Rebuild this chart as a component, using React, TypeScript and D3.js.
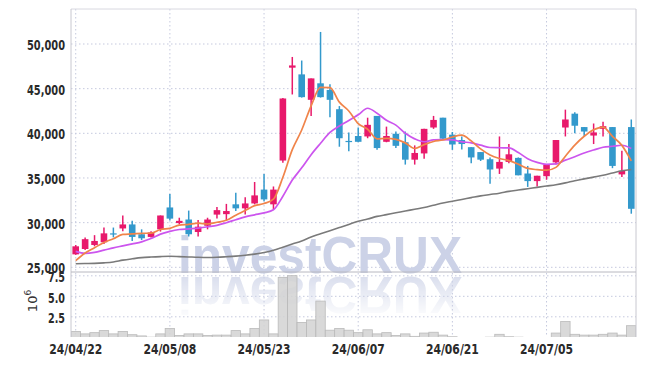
import React from "react";
import * as d3 from "d3";

const dates = [
  "24/04/22","24/04/23","24/04/24","24/04/25","24/04/26","24/04/29","24/04/30","24/05/02","24/05/03","24/05/07",
  "24/05/08","24/05/09","24/05/10","24/05/13","24/05/14","24/05/16","24/05/17","24/05/20","24/05/21","24/05/22",
  "24/05/23","24/05/24","24/05/27","24/05/28","24/05/29","24/05/30","24/05/31","24/06/03","24/06/04","24/06/05",
  "24/06/07","24/06/10","24/06/11","24/06/12","24/06/13","24/06/14","24/06/17","24/06/18","24/06/19","24/06/20",
  "24/06/21","24/06/24","24/06/25","24/06/26","24/06/27","24/06/28","24/07/01","24/07/02","24/07/03","24/07/04",
  "24/07/05","24/07/08","24/07/09","24/07/10","24/07/11","24/07/12","24/07/15","24/07/16","24/07/17","24/07/18",
];

const opens = [
  26450,27050,27500,27800,28800,29350,29800,28700,28400,29250,
  31700,29950,30350,28950,29650,30900,30950,32050,31600,32150,
  33700,32050,36950,47350,46600,43750,45600,44850,42700,39150,
  39700,39650,41950,39050,39950,39000,37050,37750,40650,41750,
  39850,39250,38450,37900,37100,36050,36800,37250,35500,34650,
  35200,36750,40650,42200,40700,39750,40500,40700,35400,40700,
];
const highs = [
  27500,28350,28600,29450,29450,30800,30200,29250,29050,30800,
  33200,30550,31350,30300,30550,31750,32100,33350,32850,34550,
  35450,34050,43950,48550,48150,46150,51350,45500,43050,40100,
  40650,41750,41950,40750,40200,40200,38650,40500,41950,41750,
  40150,39650,38450,37900,37300,39650,38800,37300,36350,35250,
  36500,39250,42650,42350,40700,41100,41300,40700,38050,41550,
];
const lows = [
  26400,26950,27350,27600,28350,29050,27950,28050,28350,29000,
  30250,29800,28450,28450,29250,30450,30250,31300,30900,32050,
  32400,31500,36700,44350,44000,41950,44000,41800,38500,38000,
  39000,39450,38150,39000,38350,36500,36500,37150,40500,39350,
  38150,38200,36650,36900,34350,35450,36650,35300,34000,34050,
  34800,36500,39650,40000,39700,38800,39650,36100,35100,31000,
];
const closes = [
  27350,28150,27950,28800,28750,29800,28400,28250,28900,30800,
  30450,30200,28700,29550,30350,31400,31300,31600,32150,33050,
  32600,33700,43900,47600,44050,46150,44050,43750,39450,39100,
  39050,40950,38350,39700,38600,37050,37800,40500,41500,39400,
  38750,38800,37300,37050,35950,36800,37650,35300,34650,35250,
  36500,39250,41550,40850,40200,40100,40800,36350,35800,31550,
];
// volume, millions of shares
const volumes = [
  0.9,0.6,0.75,1.0,0.6,0.9,0.5,0.35,0.2,0.6,
  1.25,0.4,0.6,0.6,0.4,0.45,0.45,1.0,0.6,1.25,
  2.3,0.6,7.5,7.7,2.0,2.3,4.6,1.05,1.25,1.05,
  0.75,1.1,0.6,0.75,0.4,0.6,0.3,0.7,0.8,0.45,
  0.25,0.1,0.1,0.1,0.2,0.55,0.25,0.2,0.15,0.15,
  0.15,0.7,2.1,0.55,0.45,0.45,0.55,0.7,0.45,1.6,
];
// moving averages
const ma5 = [
  25750,26600,27200,27780,28200,28690,28740,28800,28820,29230,
  29360,29720,29810,29940,29850,30040,30260,30840,31360,31900,
  32140,32620,35080,38170,40370,43080,45150,45120,43490,42500,
  41080,40460,39380,39430,39330,38930,38300,38730,39090,39250,
  39590,39790,39150,38260,37570,37180,36950,36550,36070,35930,
  35870,36190,37440,38680,39670,40390,40700,39660,38650,36920,
];
const ma10 = [
  26780,26560,26670,26920,27180,27400,27620,27850,28220,28715,
  29025,29230,29305,29380,29540,29700,29990,30325,30650,30875,
  31090,31440,32960,34765,36135,37610,38885,40100,40830,41435,
  42080,42805,42250,41460,40915,40005,39380,39055,39260,39290,
  39260,39045,38940,38675,38410,38385,38370,37850,37165,36750,
  36525,36570,36995,37375,37800,38130,38445,38550,38665,38295,
];
const maLong = [
  25400,25420,25440,25500,25600,25800,25950,26080,26150,26200,
  26230,26200,26160,26120,26100,26120,26180,26250,26350,26480,
  26650,26900,27250,27600,27950,28400,28750,29100,29450,29800,
  30150,30400,30700,30900,31100,31300,31500,31700,31950,32200,
  32400,32600,32800,33000,33150,33300,33500,33650,33800,33950,
  34100,34250,34450,34700,34900,35100,35300,35550,35800,35950,
];

const priceTicks = [25000, 30000, 35000, 40000, 45000, 50000];
const volTicks = [2.5, 5.0, 7.5];
const dateTickLabels = ["24/04/22", "24/05/08", "24/05/23", "24/06/07", "24/06/21", "24/07/05"];

const W = 645, H = 366;
const L = 71, R = 636, PT = 9, PB = 272, VB = 337;
const UP = "#e8196b", DOWN = "#3399cc";
const GRID = "#c5c9de";
const FONT = "'DejaVu Sans', sans-serif";

export default function App() {
  const idx = d3.range(dates.length);
  const x = d3.scaleBand<number>().domain(idx).range([L, R]).padding(0);
  const bw = x.bandwidth();
  const cx = (i: number) => (x(i) as number) + bw / 2;
  const y = d3.scaleLinear().domain([24474, 53919]).range([PB, PT]);
  const yv = d3.scaleLinear().domain([0, 8.15]).range([338.8, PB]);
  const line = (arr: number[]) =>
    d3.line<number>().x((_, i) => cx(i)).y((v) => y(v)).curve(d3.curveMonotoneX)(arr) || "";

  const bodyW = 6.6;
  const wm = "investCRUX";

  return (
    <svg width={W} height={H} style={{ position: "absolute", left: 0, top: 0, background: "#fff" }}>
      <defs>
        <clipPath id="priceClip"><rect x={L} y={PT} width={R - L} height={PB - PT} /></clipPath>
        <clipPath id="volClip"><rect x={L} y={PB} width={R - L} height={VB - PB} /></clipPath>
        <linearGradient id="fade" x1="0" y1="0" x2="0" y2="1">
          <stop offset="0" stopColor="#fff" stopOpacity={0.8} />
          <stop offset="1" stopColor="#fff" stopOpacity={0} />
        </linearGradient>
        <mask id="reflMask" maskUnits="userSpaceOnUse" x={0} y={PB} width={W} height={60}>
          <rect x={0} y={PB} width={W} height={48} fill="url(#fade)" />
        </mask>
      </defs>

      {/* grid */}
      {priceTicks.map((t) => (
        <line key={"pg" + t} x1={L} x2={R} y1={y(t)} y2={y(t)} stroke={GRID} strokeDasharray="1.5,2.5" />
      ))}
      {volTicks.map((t) => (
        <line key={"vg" + t} x1={L} x2={R} y1={yv(t) - 1.5} y2={yv(t) - 1.5} stroke={GRID} strokeDasharray="1.5,2.5" />
      ))}
      {dateTickLabels.map((d) => {
        const i = dates.indexOf(d);
        return <line key={"xg" + d} x1={cx(i)} x2={cx(i)} y1={PT} y2={VB} stroke={GRID} strokeDasharray="1.5,2.5" />;
      })}

      {/* watermark */}
      <text x={178} y={273} textLength={284} lengthAdjust="spacingAndGlyphs"
        fontFamily="'Liberation Sans', Arial, sans-serif" fontWeight="bold" fontSize={52} fill="#ccd2e7">{wm}</text>
      <g mask="url(#reflMask)">
        <text x={178} y={273} textLength={284} lengthAdjust="spacingAndGlyphs"
          transform={`translate(0, ${2 * 275}) scale(1,-1)`}
          fontFamily="'Liberation Sans', Arial, sans-serif" fontWeight="bold" fontSize={52} fill="#ccd2e7">{wm}</text>
      </g>

      {/* volume bars */}
      <g clipPath="url(#volClip)">
        {volumes.map((v, i) => (
          <rect key={"v" + i} x={x(i) as number} y={yv(v)} width={bw} height={yv(0) - yv(v)}
            fill="#d2d2d2" fillOpacity={0.85} stroke="#bababa" strokeWidth={0.8} />
        ))}
      </g>

      {/* frame */}
      <line x1={L} x2={R} y1={PT} y2={PT} stroke="#d8d8e0" />
      <line x1={L} x2={L} y1={PT} y2={VB} stroke="#c8c8d0" />
      <line x1={R} x2={R} y1={PT} y2={VB} stroke="#c8c8d0" />
      <line x1={L} x2={R} y1={PB} y2={PB} stroke="#b8b8c0" />

      {/* candles */}
      <g clipPath="url(#priceClip)">
        {idx.map((i) => {
          const up = closes[i] >= opens[i];
          const c = up ? UP : DOWN;
          const top = y(Math.max(opens[i], closes[i]));
          const bot = y(Math.min(opens[i], closes[i]));
          return (
            <g key={"c" + i}>
              <line x1={cx(i)} x2={cx(i)} y1={y(highs[i])} y2={y(lows[i])} stroke={c} strokeWidth={1.5} />
              <rect x={cx(i) - bodyW / 2} y={top} width={bodyW} height={Math.max(1.2, bot - top)} fill={c} />
            </g>
          );
        })}
        <path d={line(maLong)} fill="none" stroke="#7a7a7a" strokeWidth={1.6} />
        <path d={line(ma10)} fill="none" stroke="#cc55ee" strokeWidth={1.7} />
        <path d={line(ma5)} fill="none" stroke="#f0844a" strokeWidth={1.7} />
      </g>

      {/* axis labels */}
      {priceTicks.map((t) => (
        <text key={"pl" + t} x={65} y={y(t) + 6} textAnchor="end" fontFamily={FONT} fontWeight="bold"
          fontSize={13.5} fill="#2a2a2a" textLength={38} lengthAdjust="spacingAndGlyphs">{d3.format(",")(t)}</text>
      ))}
      {volTicks.map((t) => (
        <text key={"vl" + t} x={65} y={yv(t) + 5} textAnchor="end" fontFamily={FONT} fontWeight="bold"
          fontSize={13.5} fill="#2a2a2a" textLength={17} lengthAdjust="spacingAndGlyphs">{d3.format(".1f")(t)}</text>
      ))}
      <text transform="translate(37, 301) rotate(-90)" textAnchor="middle" fontFamily={FONT} fontSize={13} fill="#333">
        10<tspan dy={-6} fontSize={9}>6</tspan>
      </text>
      {dateTickLabels.map((d) => {
        const i = dates.indexOf(d);
        return (
          <text key={"xl" + d} x={cx(i) - 26.5} y={354} fontFamily={FONT} fontWeight="bold"
            fontSize={13.5} fill="#2a2a2a" textLength={53} lengthAdjust="spacingAndGlyphs">{d}</text>
        );
      })}
    </svg>
  );
}
